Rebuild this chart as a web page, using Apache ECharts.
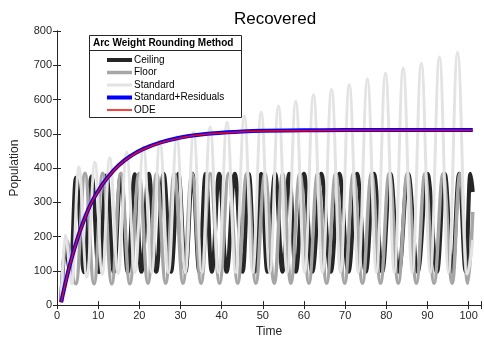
<!DOCTYPE html>
<html>
<head>
<meta charset="utf-8">
<script src="https://cdn.jsdelivr.net/npm/echarts@6/dist/echarts.min.js"></script>
<style>
  html, body { margin: 0; padding: 0; background: #fff; }
  #main { width: 484px; height: 343px; }
</style>
</head>
<body>
<div id="main"></div>
<script>
// names of the series (legend order)
let names = ['Ceiling', 'Floor', 'Standard', 'Standard+Residuals', 'ODE'];

// [time, population]
let ceiling = [
    [1, 10], [2.0, 170], [3.3, 96], [4.6, 372], [6.6, 96], [8.4, 375], [10.2, 96], [12.0, 378],
    [13.8, 96], [15.5, 380], [17.2, 96], [18.9, 382], [20.5, 97], [22.3, 383], [24.1, 97],
    [25.9, 383], [27.7, 97], [29.5, 383], [31.2, 97], [32.9, 383], [34.6, 97], [36.1, 383],
    [37.6, 97], [39.4, 383], [41.2, 97], [43.2, 383], [45.1, 97], [46.6, 383], [48.1, 97],
    [49.6, 383], [51.1, 97], [53.0, 383], [54.8, 97], [56.4, 383], [58.0, 97], [60.0, 383],
    [62.0, 97], [64.2, 383], [66.5, 97], [68.6, 383], [70.8, 97], [72.9, 383], [75.0, 97],
    [77.0, 383], [79.0, 97], [81.0, 383], [83.0, 97], [85.3, 383], [87.6, 97], [90.0, 383],
    [92.3, 97], [94.2, 383], [96.0, 97], [97.7, 383], [99.3, 97], [100.4, 383], [101, 330]
];
let floor = [
    [1, 10], [2.2, 190], [4.6, 62], [6.8, 385], [9.0, 62], [11.1, 385], [13.3, 62], [15.5, 385],
    [17.7, 62], [19.9, 384], [22.1, 64], [24.2, 384], [26.4, 64], [28.5, 384], [30.6, 64],
    [32.8, 384], [35.0, 64], [37.2, 384], [39.5, 64], [41.7, 384], [43.9, 64], [46.1, 384],
    [48.3, 64], [50.5, 384], [52.8, 64], [54.8, 384], [56.8, 64], [59.0, 384], [61.2, 64],
    [63.3, 384], [65.5, 64], [67.7, 384], [69.9, 64], [72.0, 384], [74.2, 64], [76.4, 384],
    [78.6, 64], [80.7, 384], [82.9, 64], [85.1, 384], [87.3, 64], [89.4, 384], [91.6, 64],
    [93.8, 384], [96.0, 64], [97.9, 384], [99.8, 64], [101, 272]
];
let standard = [
    [1, 12], [2.0, 204], [3.6, 62], [5.3, 403], [7.25, 82], [9.2, 417], [11.0, 90], [12.8, 430],
    [14.85, 92], [16.9, 447], [18.95, 95], [21.0, 462], [23.0, 95], [25.0, 478], [27.05, 95],
    [29.1, 492], [31.15, 95], [33.2, 505], [35.2, 95], [37.2, 520], [39.25, 95], [41.3, 534],
    [43.4, 95], [45.5, 552], [47.55, 95], [49.6, 563], [51.7, 95], [53.8, 581], [55.9, 95],
    [58.0, 595], [60.15, 95], [62.3, 614], [64.5, 95], [66.7, 629], [68.85, 95], [71.0, 643],
    [73.2, 95], [75.4, 660], [77.6, 95], [79.8, 677], [81.95, 95], [84.1, 692], [86.3, 95],
    [88.5, 706], [90.7, 95], [92.9, 724], [95.1, 95], [97.3, 738], [99.6, 90], [101, 190]
];
let residuals = [
    [1, 8], [2, 62], [3, 112], [4, 155], [5, 195], [6, 230], [8, 290], [10, 333], [12, 368],
    [15, 408], [18, 436], [21, 456], [25, 474], [30, 489], [35, 498], [40, 503], [45, 507],
    [50, 509], [60, 510], [70, 511], [80, 511], [90, 511], [101, 511]
];
let ode = [
    [1, 8], [2, 61], [3, 111], [4, 154], [5, 194], [6, 229], [8, 289], [10, 332], [12, 367],
    [15, 407], [18, 435], [21, 455], [25, 473], [30, 488], [35, 497], [40, 502], [45, 506],
    [50, 508], [60, 509], [70, 510], [80, 510], [90, 510], [101, 510]
];

let colors = ['#262626', '#a6a6a6', '#e3e3e3', '#0000ff', '#ff0000'];
let widths = [4, 3.5, 3, 4, 1.5];
let allData = [ceiling, floor, standard, residuals, ode];

let font = 'Liberation Sans, Arial, Helvetica, sans-serif';

let charts = echarts.init(document.querySelector('#main'));

let series = [];
let legendData = [];
for (let i = 0; i < names.length; i++) {
    let s = {
        name: names[i],
        type: 'line',
        data: allData[i],
        smooth: i < 3 ? 0.4 : 0.5,
        symbol: 'none',
        animation: false,
        lineStyle: { color: colors[i], width: widths[i] },
        itemStyle: { color: colors[i] },
        z: 2 + i
    };
    // oscillating runs: keep the curve from looping back
    if (i < 3) s.smoothMonotone = 'x';
    series.push(s);
    legendData.push({ name: names[i], lineStyle: { color: colors[i], width: widths[i] } });
}

let axisColor = '#262626';

let option = {
    animation: false,
    title: {
        text: 'Recovered',
        left: 270,
        textAlign: 'center',
        top: 6,
        textStyle: { fontFamily: font, fontSize: 17, fontWeight: 'normal', color: '#000' }
    },
    grid: { left: 57, right: 1, top: 31, bottom: 36, containLabel: false },
    xAxis: [{
        type: 'value',
        min: 0,
        max: 103,
        interval: 10,
        name: 'Time',
        nameLocation: 'middle',
        nameGap: 20,
        nameTextStyle: { fontFamily: font, fontSize: 12, color: axisColor },
        axisLine: { lineStyle: { color: axisColor, width: 1 } },
        axisTick: { inside: true, length: 4, lineStyle: { color: axisColor } },
        axisLabel: {
            fontFamily: font, fontSize: 11, color: axisColor, margin: 5,
            formatter: function (v) { return v % 10 === 0 ? v : ''; }
        },
        splitLine: { show: false }
    }, {
        type: 'value',
        position: 'top',
        min: 0,
        max: 103,
        interval: 10,
        axisLine: { lineStyle: { color: axisColor, width: 1 } },
        axisTick: { inside: true, length: 4, lineStyle: { color: axisColor } },
        axisLabel: { show: false },
        splitLine: { show: false }
    }],
    yAxis: [{
        type: 'value',
        min: 0,
        max: 800,
        interval: 100,
        name: 'Population',
        nameLocation: 'middle',
        nameGap: 36,
        nameTextStyle: { fontFamily: font, fontSize: 12, color: axisColor },
        axisLine: { show: true, lineStyle: { color: axisColor, width: 1 } },
        axisTick: { show: true, inside: true, length: 4, lineStyle: { color: axisColor } },
        axisLabel: { fontFamily: font, fontSize: 11, color: axisColor, margin: 5 },
        splitLine: { show: false }
    }, {
        type: 'value',
        position: 'right',
        min: 0,
        max: 800,
        interval: 100,
        axisLine: { show: true, lineStyle: { color: axisColor, width: 1 } },
        axisTick: { show: true, inside: true, length: 4, lineStyle: { color: axisColor } },
        axisLabel: { show: false },
        splitLine: { show: false }
    }],
    legend: {
        orient: 'vertical',
        left: 105,
        top: 55,
        padding: 0,
        z: 100,
        itemWidth: 25,
        itemHeight: 10,
        itemGap: 2.5,
        itemStyle: { opacity: 0 },
        textStyle: { fontFamily: font, fontSize: 10, color: '#000', padding: [0, 0, 0, -3] },
        data: legendData
    },
    graphic: [{
        type: 'rect',
        shape: { x: 89.5, y: 35.5, width: 152, height: 82 },
        style: { fill: '#fff', stroke: '#262626', lineWidth: 1 },
        z: 50
    }, {
        type: 'line',
        shape: { x1: 89.5, y1: 50.5, x2: 241.5, y2: 50.5 },
        style: { stroke: '#262626', lineWidth: 1 },
        z: 51
    }, {
        type: 'text',
        left: 93,
        top: 38,
        style: { text: 'Arc Weight Rounding Method', fontFamily: font, fontSize: 10, fontWeight: 'bold', fill: '#000' },
        z: 51
    }],
    series: series
};
charts.setOption(option);
</script>
</body>
</html>
